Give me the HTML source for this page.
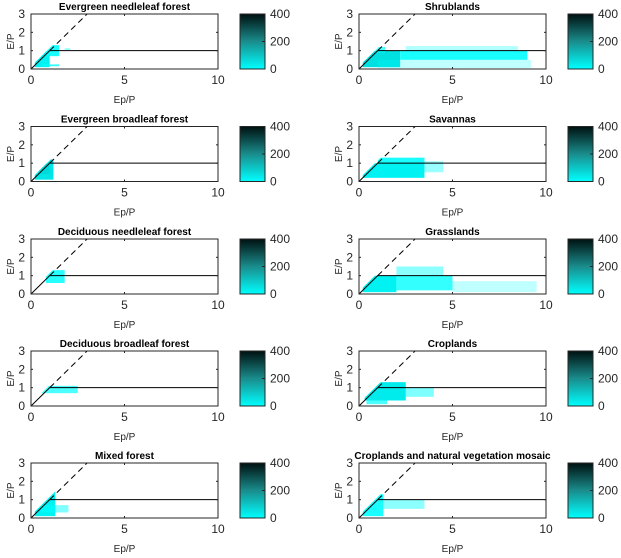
<!DOCTYPE html>
<html><head><meta charset="utf-8">
<style>
html,body{margin:0;padding:0;background:#fff;}
svg{display:block;font-family:"Liberation Sans",sans-serif;}
</style></head>
<body>
<svg id="fig" width="621" height="558" viewBox="0 0 621 558">
<defs>
<linearGradient id="cb" x1="0" y1="1" x2="0" y2="0">
<stop offset="0" stop-color="#00ffff"/>
<stop offset="0.5" stop-color="#1a8c8c"/>
<stop offset="1" stop-color="#001010"/>
</linearGradient>
</defs>
</svg>
<script>
// panel titles in reading order (left column then right column by row)
const titles = ["Evergreen needleleaf forest","Shrublands","Evergreen broadleaf forest","Savannas",
"Deciduous needleleaf forest","Grasslands","Deciduous broadleaf forest","Croplands",
"Mixed forest","Croplands and natural vegetation mosaic"];
const xTicks = [0,5,10];
const yTicks = [0,1,2,3];
const cbTicks = [0,200,400];
// density regions per panel: [xmin,xmax,ymin,ymax,coverage,darkness]
const regions0 = [[0.2,1.0,0.1,1.0,1,0.05],[0.8,1.5,0.7,1.3,0.9,0],[0.6,1.5,0.15,0.25,0.8,0],[1.8,2.1,1.05,1.12,0.6,0]];
const regions1 = [[0.2,2.2,0.1,1.0,1,0.12],[0.9,1.4,0.9,1.2,0.7,0],[2.2,9.0,0.5,1.0,0.9,0],[2.5,8.5,1.0,1.25,0.3,0],[1.0,9.2,0.05,0.5,0.25,0]];
const regions2 = [[0.2,1.2,0.1,1.2,1,0.1],[0.4,1.0,0.4,1.0,1,0.15]];
const regions3 = [[0.2,3.5,0.2,1.0,1,0.05],[1.0,3.5,1.0,1.3,0.9,0],[3.5,4.5,0.5,1.1,0.4,0]];
const regions4 = [[0.8,1.8,0.6,1.3,0.85,0]];
const regions5 = [[0.2,2.0,0.1,1.0,1,0.05],[2.0,5.0,0.2,1.0,0.8,0],[2.0,4.5,1.0,1.5,0.45,0],[5.0,9.5,0.1,0.7,0.25,0]];
const regions6 = [[0.5,2.5,0.7,1.1,0.7,0]];
const regions7 = [[0.3,2.5,0.3,1.3,1,0.08],[2.5,4.0,0.5,1.0,0.5,0],[0.4,1.5,0.1,0.3,0.7,0]];
const regions8 = [[0.2,1.3,0.1,1.5,1,0.05],[0.5,2.0,0.3,0.7,0.5,0]];
const regions9 = [[0.2,1.3,0.1,1.3,0.9,0],[1.3,3.5,0.5,1.0,0.45,0]];
const allRegions=[regions0,regions1,regions2,regions3,regions4,regions5,regions6,regions7,regions8,regions9];

const NS="http://www.w3.org/2000/svg";
const svg=document.getElementById('fig');
const defs=svg.querySelector('defs');
function mk(tag,attrs,parent){const e=document.createElementNS(NS,tag);for(const k in attrs)e.setAttribute(k,attrs[k]);(parent||svg).appendChild(e);return e;}
const W=187,H=55;
const colX=[31,359], cbX=[240,568];
const rowY=[14,126.5,239,351,463];
function colorFor(d){const g=Math.round(255*(1-d));return `rgb(0,${g},${g})`;}
titles.forEach((t,i)=>{
  const col=i%2,row=Math.floor(i/2);
  const x0=colX[col],y0=rowY[row];
  const sx=v=>x0+v/10*W, sy=v=>y0+H-v/3*H;
  const cp=mk('clipPath',{id:'clip'+i},defs);
  mk('polygon',{points:`${sx(0)},${sy(0)} ${sx(0)},${sy(0.15)} ${sx(2.85)},${sy(3)} ${sx(10)},${sy(3)} ${sx(10)},${sy(0)}`},cp);
  const g=mk('g',{});
  
  
  mk('rect',{x:x0,y:y0,width:W,height:H,fill:'#fff'},g);
  const dg=mk('g',{'clip-path':`url(#clip${i})`},g);
  allRegions[i].forEach(r=>{
    const rc=mk('rect',{x:sx(r[0]),y:sy(r[3]),width:sx(r[1])-sx(r[0]),height:sy(r[2])-sy(r[3]),fill:colorFor(r[5]),'fill-opacity':r[4]},dg);
    
    
  });
  const dash=mk('line',{x1:sx(1),y1:sy(1),x2:sx(3),y2:sy(3),stroke:'#000','stroke-width':1,'stroke-dasharray':'6,4'},g);
  
  
  const lim=mk('polyline',{points:`${sx(0)},${sy(0)} ${sx(1)},${sy(1)} ${sx(10)},${sy(1)}`,fill:'none',stroke:'#000','stroke-width':1},g);
  
  
  mk('rect',{x:x0,y:y0,width:W,height:H,fill:'none',stroke:'#262626','stroke-width':1},g);
  xTicks.forEach(v=>{
    mk('line',{x1:sx(v),y1:y0+H,x2:sx(v),y2:y0+H-2,stroke:'#262626'},g);
    mk('line',{x1:sx(v),y1:y0,x2:sx(v),y2:y0+2,stroke:'#262626'},g);
    const tx=mk('text',{x:sx(v),y:y0+H+15,'text-anchor':'middle','font-size':12,fill:'#262626'},g);tx.textContent=v;
  });
  yTicks.forEach(v=>{
    mk('line',{x1:x0,y1:sy(v),x2:x0+2,y2:sy(v),stroke:'#262626'},g);
    mk('line',{x1:x0+W,y1:sy(v),x2:x0+W-2,y2:sy(v),stroke:'#262626'},g);
    const ty=mk('text',{x:x0-6,y:sy(v)+4,'text-anchor':'end','font-size':12,fill:'#262626'},g);ty.textContent=v;
  });
  const tt=mk('text',{x:x0+W/2,y:y0-4,'text-anchor':'middle','font-size':10,'font-weight':'bold',fill:'#000'},g);tt.textContent=t;
  
  
  const xl=mk('text',{x:x0+W/2,y:y0+H+34,'text-anchor':'middle','font-size':10,fill:'#262626'},g);xl.textContent='Ep/P';
  
  
  const yl=mk('text',{x:0,y:0,'text-anchor':'middle','font-size':10,fill:'#262626',transform:`translate(${x0-17},${y0+H/2}) rotate(-90)`},g);yl.textContent='E/P';
  
  
  const cx=cbX[col];
  const cb=mk('rect',{x:cx,y:y0,width:25,height:H,fill:'url(#cb)',stroke:'#262626','stroke-width':1},g);
  
  
  cbTicks.forEach(v=>{
    const yy=y0+H-v/400*H;
    mk('line',{x1:cx+25,y1:yy,x2:cx+22,y2:yy,stroke:'#262626'},g);
    const ct=mk('text',{x:cx+30,y:yy+4,'font-size':12,fill:'#262626'},g);ct.textContent=v;
  });
});
</script>
</body></html>
